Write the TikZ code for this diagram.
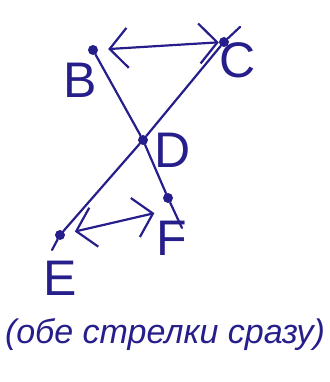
\documentclass[tikz,border=0pt]{standalone}
\usepackage{fontspec}
\setmainfont{Liberation Sans}
\usepackage{xcolor}
\usetikzlibrary{positioning,arrows.meta}
\definecolor{ink}{RGB}{38,30,138}

\begin{document}
\begin{tikzpicture}[
  x=1pt, y=1pt,
  dot/.style={circle, fill=ink, inner sep=0pt, minimum size=10pt},
  lbl/.style={text=ink, font=\fontsize{50}{50}\selectfont},
  stroke/.style={draw=ink, line width=2.2pt, line cap=round},
  dbl/.style={stroke, {Straight Barb[length=18pt, width=40pt]}-{Straight Barb[length=18pt, width=40pt]}}
]
\useasboundingbox (0,0) rectangle (329,382);

\node[dot] (B) at (93,332) {};
\node[dot] (C) at (224,340) {};
\node[dot] (D) at (143,242) {};
\node[dot] (F) at (168,184) {};
\node[dot] (E) at (60,147) {};
\coordinate (Cend) at (240,355);
\coordinate (Eend) at (52,132);
\coordinate (Fend) at (182,154);

\node[lbl] (lblB) at (80,302) {B};
\node[lbl] (lblC) at (238,322) {C};
\node[lbl] (lblD) at (173,232) {D};
\node[lbl] (lblF) at (172,144) {F};
\node[lbl] (lblE) at (60,104) {E};

\draw[stroke] (B) -- (D) -- (F) -- (Fend);
\draw[stroke] (Cend) -- (C) -- (D) -- (E) -- (Eend);

\draw[dbl, shorten <=10pt, shorten >=0pt] (B) -- (C);
\draw[dbl, shorten <=10pt, shorten >=14pt] (E) -- ([yshift=-12pt]F.center);

\node[text=ink, font=\fontsize{34}{34}\selectfont\itshape] (note) at (165,47) {(обе стрелки сразу)};
\end{tikzpicture}
\end{document}
